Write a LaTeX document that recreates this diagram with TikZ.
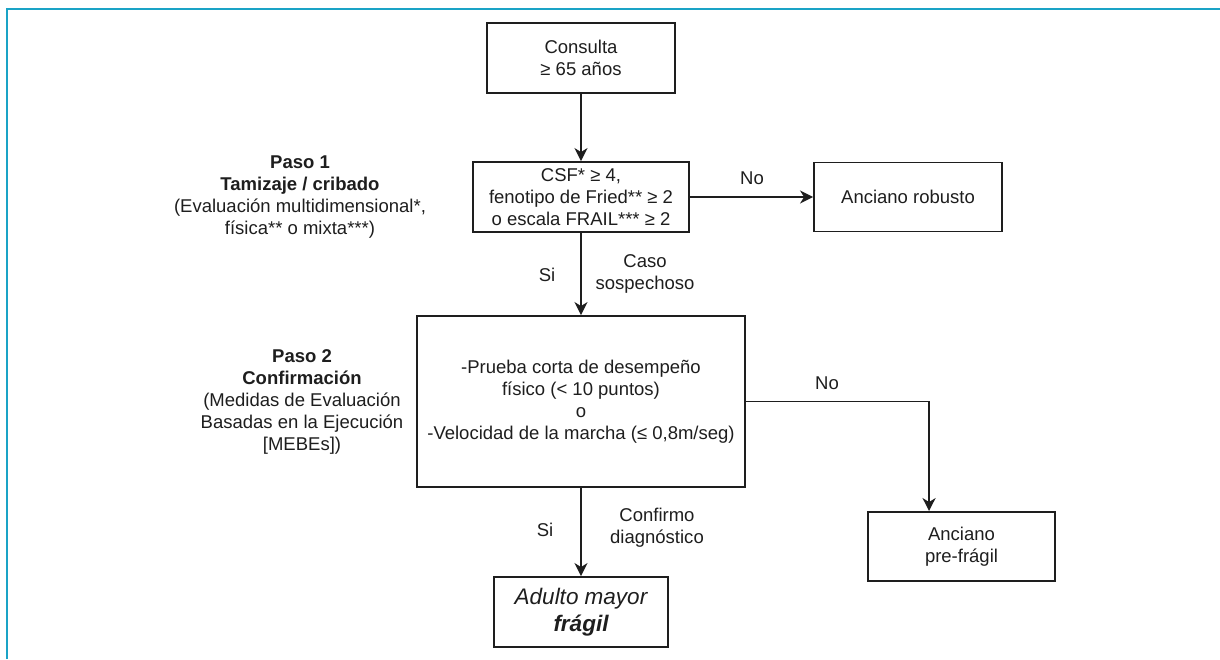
\documentclass[tikz,border=0pt]{standalone}
\usepackage{fontspec}
\setmainfont{Liberation Sans}
\usetikzlibrary{arrows.meta}
\definecolor{framecol}{HTML}{1AA3C6}
\definecolor{ink}{HTML}{1E1E1E}
\tikzset{
  txt/.style={font=\fontsize{18.5}{22}\selectfont, align=center, text=ink, inner sep=0pt},
  box/.style={txt, draw=ink, line width=1.9pt, rectangle},
  arr/.style={draw=ink, line width=1.7pt, -{Stealth[length=13pt,width=13pt,inset=4pt]}},
  lin/.style={draw=ink, line width=1.7pt}
}
\begin{document}
\begin{tikzpicture}[x=1pt,y=-1pt]
\useasboundingbox (0,0) rectangle (1220,659);
\fill[white] (0,0) rectangle (1220,659);
% frame
\draw[framecol, line width=2pt] (7,659) -- (7,9) -- (1220,9);

% boxes
\node[box, minimum width=188pt, minimum height=70pt] (cons) at (581,58) {Consulta\\≥ 65 años};
\node[box, minimum width=216pt, minimum height=70pt] (csf) at (581,197) {CSF* ≥ 4,\\fenotipo de Fried** ≥ 2\\o escala FRAIL*** ≥ 2};
\node[box, minimum width=188pt, minimum height=69pt] (rob) at (908,197) {Anciano robusto};
\node[box, minimum width=328pt, minimum height=171pt] (conf) at (581,401.5) {-Prueba corta de desempeño\\físico (< 10 puntos)\\o\\-Velocidad de la marcha (≤ 0,8m/seg)};
\node[box, minimum width=187pt, minimum height=69pt] (pre) at (961.5,546.5) {Anciano\\pre-frágil};
\node[box, minimum width=174pt, minimum height=70pt, font=\fontsize{22.5}{27}\selectfont] (adu) at (581,612) {\itshape Adulto mayor\\\bfseries\itshape frágil};

% side texts
\node[txt] (paso1) at (300,197.5) {\bfseries Paso 1\\\bfseries Tamizaje / cribado\\(Evaluación multidimensional*,\\física** o mixta***)};
\node[txt] (paso2) at (302,402) {\bfseries Paso 2\\\bfseries Confirmación\\(Medidas de Evaluación\\Basadas en la Ejecución\\{[}MEBEs])};

% connectors
\draw[arr] (cons.south) -- (csf.north);
\draw[arr] (csf.east) -- (rob.west);
\draw[arr] (csf.south) -- (conf.north);
\draw[arr] (conf.east) -| ([xshift=62pt]pre.north west);
\draw[arr] (conf.south) -- (adu.north);

% labels
\node[txt] (no1) at (752,178) {No};
\node[txt] (si1) at (547,275) {Si};
\node[txt] (caso) at (645,274) {Caso\\sospechoso};
\node[txt] (no2) at (827,383) {No};
\node[txt] (si2) at (545,530) {Si};
\node[txt] (confirmo) at (657,528) {Confirmo\\diagnóstico};
\end{tikzpicture}
\end{document}
